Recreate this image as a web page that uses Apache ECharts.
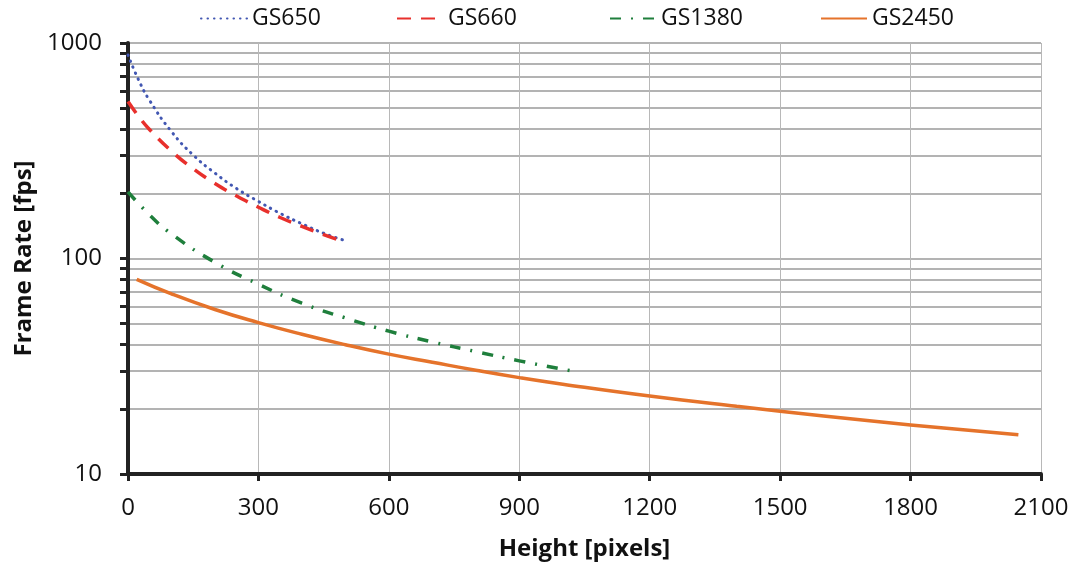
<!DOCTYPE html>
<html>
<head>
<meta charset="utf-8">
<script src="https://cdn.jsdelivr.net/npm/echarts@6/dist/echarts.min.js"></script>
<style>
  html, body { margin: 0; padding: 0; background: #fff; }
  #main { width: 1078px; height: 568px; }
</style>
</head>
<body>
<div id="main"></div>
<script>
// values
var gs650 = [[0, 880], [25, 670], [50, 540], [100, 388], [150, 302], [200, 249], [250, 211], [300, 184], [350, 162], [400, 145], [450, 131], [500, 121]];
var gs660 = [[0, 535], [25, 455], [50, 396], [100, 315], [150, 261], [200, 223], [250, 195], [300, 173], [350, 155], [400, 141], [450, 129], [500, 119]];
var gs1380 = [[0, 204], [50, 159], [100, 130], [200, 96], [300, 76], [400, 62], [500, 53], [600, 46], [700, 41], [800, 37], [900, 33.5], [1024, 30]];
var gs2450 = [[20, 80], [100, 68.5], [200, 58], [300, 50.4], [400, 44.5], [500, 39.8], [600, 36], [700, 33], [800, 30.3], [900, 28], [1000, 26.1], [1200, 23], [1400, 20.6], [1600, 18.6], [1800, 16.9], [2048, 15.2]];

var names = ['GS650', 'GS660', 'GS1380', 'GS2450'];
var colors = ['#4257b2', '#e8302c', '#1f7f3c', '#e5732b'];
var legendLeft = [200, 396, 609, 820];
var font = '"Open Sans", sans-serif';

var myChart = echarts.init(document.getElementById('main'));

function mkLine(name, data, color, type, width, cap) {
  return {
    name: name,
    type: 'line',
    data: data,
    smooth: true,
    showSymbol: false,
    symbol: 'none',
    color: color,
    lineStyle: { color: color, type: type, width: width, cap: cap || 'butt' },
    animation: false
  };
}

// one legend per entry so each sits where the reference has it
var legends = names.map(function (n, i) {
  return {
    top: 7,
    left: legendLeft[i],
    padding: 0,
    itemWidth: 46,
    itemHeight: 14,
    itemGap: 0,
    itemStyle: { opacity: 0 },
    textStyle: { fontFamily: font, fontSize: 23, color: '#111' },
    data: [n]
  };
});

myChart.setOption({
  animation: false,
  legend: legends,
  grid: { left: 128, right: 37, top: 43, bottom: 94 },
  xAxis: {
    type: 'value',
    min: 0,
    max: 2100,
    interval: 300,
    name: 'Height [pixels]',
    nameLocation: 'middle',
    nameGap: 63,
    nameTextStyle: { fontFamily: font, fontSize: 24, fontWeight: 'bold', color: '#111' },
    axisLine: { onZero: false, lineStyle: { color: '#222', width: 4 } },
    axisTick: { show: true, length: 7, lineStyle: { color: '#222', width: 3 } },
    axisLabel: { fontFamily: font, fontSize: 24, color: '#111', margin: 22, formatter: function (v) { return String(v); } },
    splitLine: { show: true, lineStyle: { color: '#b8b8b8', width: 1 } }
  },
  yAxis: {
    type: 'log',
    logBase: 10,
    min: 10,
    max: 1000,
    name: 'Frame Rate [fps]',
    nameLocation: 'middle',
    nameGap: 92,
    nameRotate: 90,
    nameTextStyle: { fontFamily: font, fontSize: 24, fontWeight: 'bold', color: '#111' },
    axisLine: { onZero: false, lineStyle: { color: '#222', width: 4 } },
    axisTick: { show: true, length: 8, lineStyle: { color: '#222', width: 3 } },
    minorTick: { show: true, splitNumber: 9, length: 8, lineStyle: { color: '#222', width: 3 } },
    axisLabel: { fontFamily: font, fontSize: 24, color: '#111', margin: 26, formatter: function (v) { return String(v); } },
    splitLine: { show: true, lineStyle: { color: '#9a9a9a', width: 1.5 } },
    minorSplitLine: { show: true, lineStyle: { color: '#9a9a9a', width: 1.5 } }
  },
  series: [
    mkLine(names[0], gs650, colors[0], [0.5, 6], 3, 'round'),
    mkLine(names[1], gs660, colors[1], [14, 10], 3.5),
    mkLine(names[2], gs1380, colors[2], [11, 10, 2, 10], 3.5),
    mkLine(names[3], gs2450, colors[3], 'solid', 3.5)
  ]
});
</script>
</body>
</html>
